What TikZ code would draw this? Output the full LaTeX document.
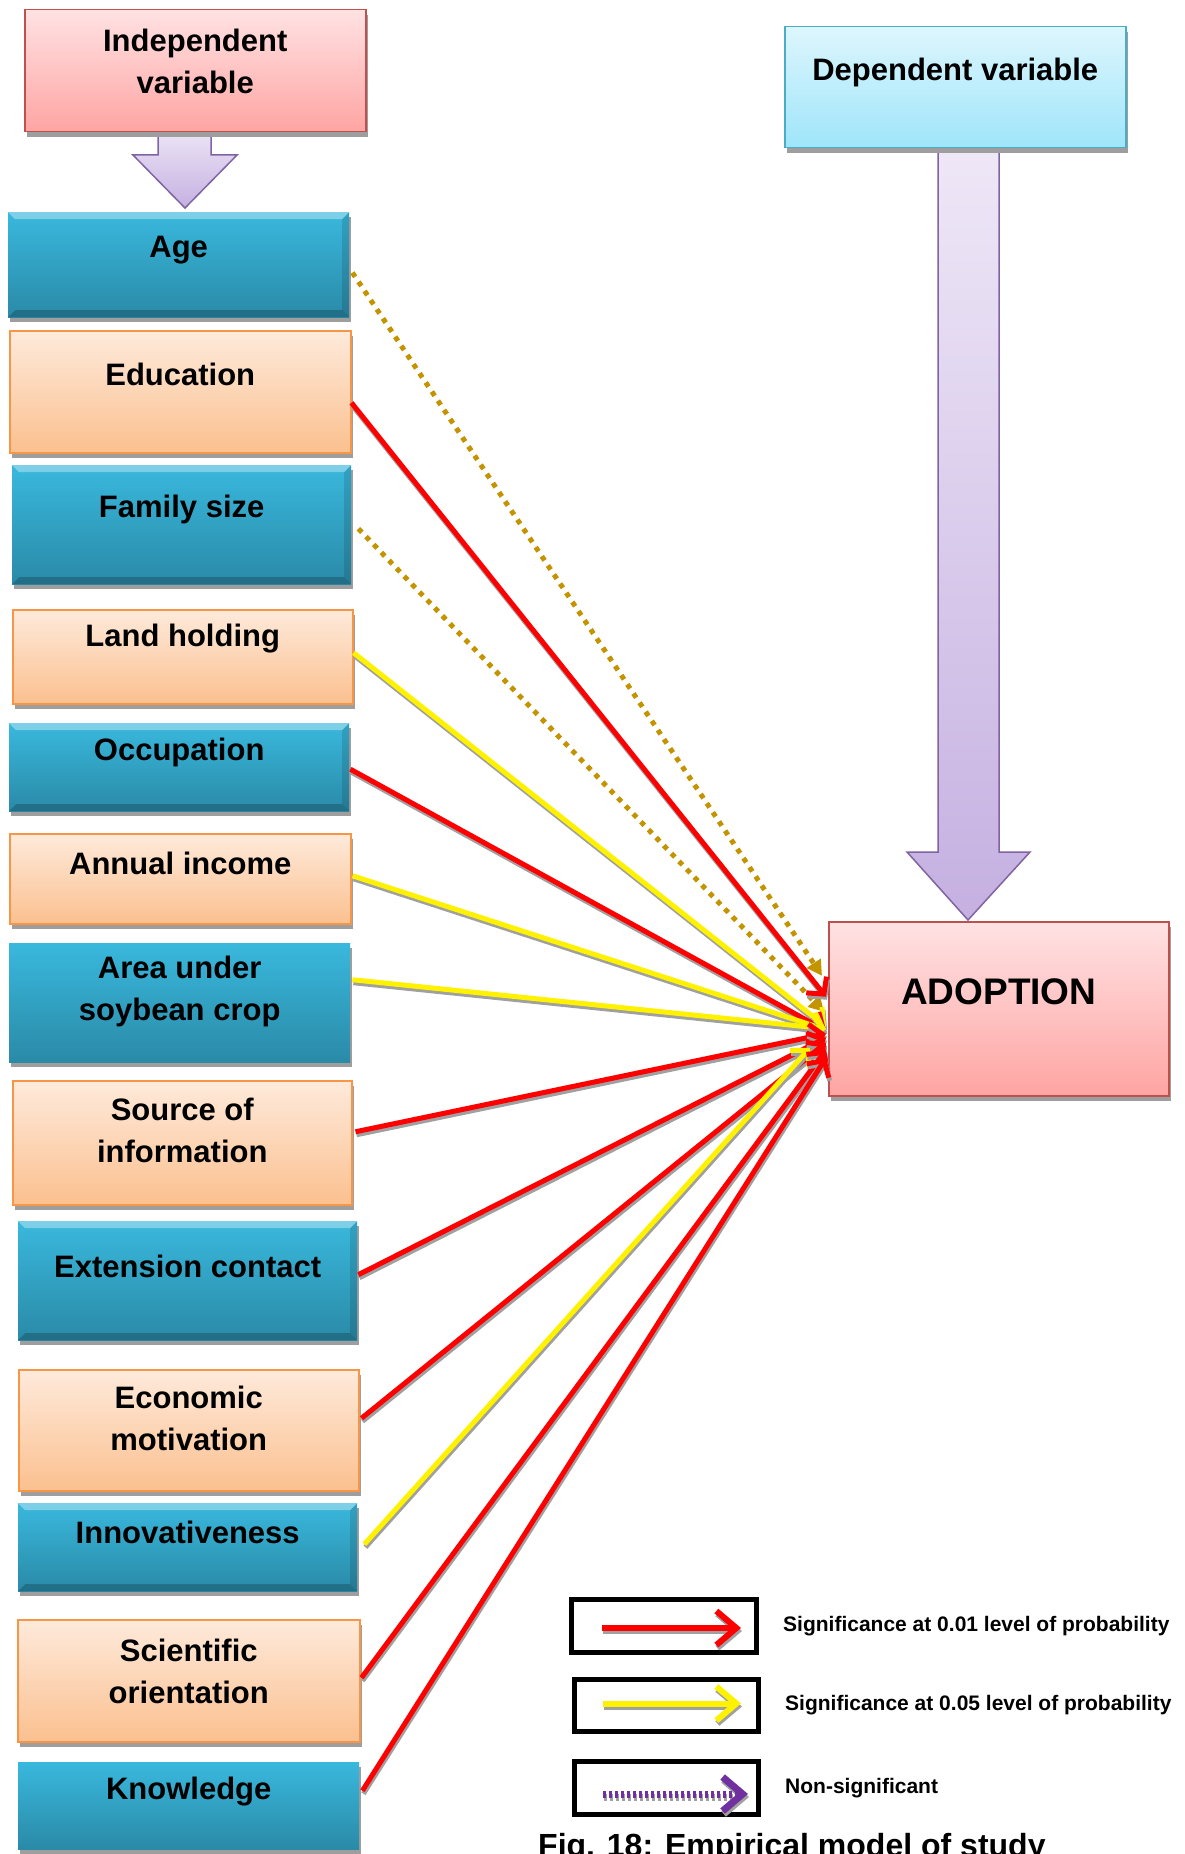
\documentclass[tikz,border=0pt]{standalone}
\usepackage{fontspec}
\setmainfont{Liberation Sans}
\usetikzlibrary{arrows.meta,shadows,positioning}

\definecolor{blutop}{HTML}{39B8DD}
\definecolor{blubot}{HTML}{2A8AA7}
\definecolor{peachtop}{HTML}{FEEADB}
\definecolor{peachbot}{HTML}{FBC08F}
\definecolor{peachline}{HTML}{F79646}
\definecolor{pinktop}{HTML}{FFE2E3}
\definecolor{pinkbot}{HTML}{FEA5A3}
\definecolor{pinkline}{HTML}{C0504D}
\definecolor{skytop}{HTML}{DDF6FD}
\definecolor{skybot}{HTML}{9FE5FA}
\definecolor{skyline}{HTML}{4BACC6}
\definecolor{liltop}{HTML}{EFE8F7}
\definecolor{lilbot}{HTML}{C5B0E1}
\definecolor{lilline}{HTML}{8064A2}
\definecolor{nsgold}{HTML}{C49300}
\definecolor{keypurple}{HTML}{7030A0}
\definecolor{lineshadow}{HTML}{A0A0A0}

% connector with its grey shadow
\newcommand{\linkto}[3]{%
  \draw[#1, draw=lineshadow, transform canvas={xshift=1pt,yshift=-3pt}] #2 -- #3;
  \draw[#1] #2 -- #3;}

\tikzset{
  boxshadow/.style={drop shadow={shadow xshift=2pt,shadow yshift=-5pt,fill=black!38,opacity=1}},
  bevel/.style={path picture={
      \fill[white,opacity=.35] (path picture bounding box.north west) -- (path picture bounding box.north east)
        -- ([shift={(-7pt,-7pt)}]path picture bounding box.north east) -- ([shift={(7pt,-7pt)}]path picture bounding box.north west) -- cycle;
      \fill[black,opacity=.2] (path picture bounding box.south west) -- (path picture bounding box.south east)
        -- ([shift={(-7pt,7pt)}]path picture bounding box.south east) -- ([shift={(7pt,7pt)}]path picture bounding box.south west) -- cycle;
      \fill[black,opacity=.12] (path picture bounding box.north east) -- (path picture bounding box.south east)
        -- ([shift={(-7pt,7pt)}]path picture bounding box.south east) -- ([shift={(-7pt,-7pt)}]path picture bounding box.north east) -- cycle;}},
  bluebox/.style={anchor=north west, inner sep=0pt, top color=blutop, bottom color=blubot, boxshadow},
  peachbox/.style={anchor=north west, inner sep=0pt, draw=peachline, line width=1.5pt, top color=peachtop, bottom color=peachbot, boxshadow},
  pinkbox/.style={anchor=north west, inner sep=0pt, draw=pinkline, line width=1.5pt, top color=pinktop, bottom color=pinkbot, boxshadow},
  skybox/.style={anchor=north west, inner sep=0pt, draw=skyline, line width=1.5pt, top color=skytop, bottom color=skybot, boxshadow},
  keybox/.style={draw=black, line width=5pt, inner sep=0pt},
  lbl/.style={inner sep=0pt, align=center, font=\fontsize{31}{42}\selectfont\bfseries},
  keytxt/.style={inner sep=0pt, anchor=west, font=\fontsize{21}{25}\selectfont\bfseries},
  blockarrow/.style={draw=lilline, line width=1.5pt, top color=liltop, bottom color=lilbot, line join=miter},
  sigone/.style={draw=red, line width=5pt, -{Straight Barb[length=12pt,width=26pt]}},
  sigfive/.style={draw=yellow, line width=5pt, -{Straight Barb[length=12pt,width=26pt]}},
  nonsig/.style={draw=nsgold, line width=5pt, dash pattern=on 5pt off 6pt, -{Triangle[length=15pt,width=16pt]}}
}

\begin{document}
\begin{tikzpicture}[x=1pt,y=-1pt]
  \path[use as bounding box, fill=white] (0,0) rectangle (1184,1854);

  % block arrows
  \draw[blockarrow] (158,125) -- (158,155) -- (133,155) -- (185,208) -- (237,155) -- (211,155) -- (211,125) -- cycle;
  \draw[blockarrow] (938,140) -- (938,852) -- (907,852) -- (968,920) -- (1030,852) -- (999,852) -- (999,140) -- cycle;

  % heading boxes
  \node[pinkbox, minimum width=341pt, minimum height=122pt] (indep) at (24,9) {};
  \node[lbl] (indeptxt) at ([yshift=-52pt]indep.north) {Independent\\variable};
  \node[skybox, minimum width=341pt, minimum height=121pt] (dep) at (784,26) {};
  \node[lbl] (deptxt) at ([yshift=-46pt]dep.north) {Dependent variable};
  \node[pinkbox, minimum width=340pt, minimum height=174pt] (adopt) at (828,921) {};
  \node[lbl, font=\fontsize{37}{44}\selectfont\bfseries] (adopttxt) at ([yshift=-71pt]adopt.north) {ADOPTION};

  % independent variables
  \node[bluebox, bevel, minimum width=341pt, minimum height=105pt] (age) at (8,212) {};
  \node[lbl] (agetxt) at ([yshift=-38pt]age.north) {Age};
  \node[peachbox, minimum width=341pt, minimum height=122pt] (edu) at (9,330) {};
  \node[lbl] (edutxt) at ([yshift=-44pt]edu.north) {Education};
  \node[bluebox, bevel, minimum width=339pt, minimum height=119pt] (fam) at (12,465) {};
  \node[lbl] (famtxt) at ([yshift=-44pt]fam.north) {Family size};
  \node[peachbox, minimum width=340pt, minimum height=94pt] (land) at (12,609) {};
  \node[lbl] (landtxt) at ([yshift=-30pt]land.north) {Land holding};
  \node[bluebox, bevel, minimum width=340pt, minimum height=88pt] (occ) at (9,723) {};
  \node[lbl] (occtxt) at ([yshift=-29pt]occ.north) {Occupation};
  \node[peachbox, minimum width=341pt, minimum height=90pt] (inc) at (9,833) {};
  \node[lbl] (inctxt) at ([yshift=-30pt]inc.north) {Annual income};
  \node[bluebox, minimum width=341pt, minimum height=119pt] (area) at (9,943) {};
  \node[lbl] (areatxt) at ([yshift=-48pt]area.north) {Area under\\soybean crop};
  \node[peachbox, minimum width=339pt, minimum height=124pt] (src) at (12,1080) {};
  \node[lbl] (srctxt) at ([yshift=-50pt]src.north) {Source of\\information};
  \node[bluebox, bevel, minimum width=339pt, minimum height=119pt] (ext) at (18,1221) {};
  \node[lbl] (exttxt) at ([yshift=-45pt]ext.north) {Extension contact};
  \node[peachbox, minimum width=340pt, minimum height=121pt] (eco) at (18,1369) {};
  \node[lbl] (ecotxt) at ([yshift=-49pt]eco.north) {Economic\\motivation};
  \node[bluebox, bevel, minimum width=339pt, minimum height=88pt] (inn) at (18,1503) {};
  \node[lbl] (inntxt) at ([yshift=-29pt]inn.north) {Innovativeness};
  \node[peachbox, minimum width=342pt, minimum height=122pt] (sci) at (17,1619) {};
  \node[lbl] (scitxt) at ([yshift=-52pt]sci.north) {Scientific\\orientation};
  \node[bluebox, minimum width=341pt, minimum height=87pt] (know) at (18,1762) {};
  \node[lbl] (knowtxt) at ([yshift=-30pt]know.north) {Knowledge};

  % connectors to adoption
  \draw[nonsig] ([shift={(3pt,-8pt)}]age.east) -- ([shift={(-6pt,33pt)}]adopt.west);
  \draw[nonsig] ([shift={(7pt,-4pt)}]fam.east) -- ([shift={(-4pt,-3pt)}]adopt.west);
  \linkto{sigone}{([shift={(0pt,-11pt)}]edu.east)}{([shift={(-2pt,12pt)}]adopt.west)}
  \linkto{sigfive}{([shift={(0pt,4pt)}]land.east)}{([shift={(-2pt,-18pt)}]adopt.west)}
  \linkto{sigone}{([shift={(1pt,-2pt)}]occ.east)}{([shift={(-2pt,-22pt)}]adopt.west)}
  \linkto{sigfive}{([shift={(1pt,3pt)}]inc.east)}{([shift={(-2pt,-21pt)}]adopt.west)}
  \linkto{sigfive}{([shift={(2pt,23pt)}]area.east)}{([shift={(-2pt,-20pt)}]adopt.west)}
  \linkto{sigone}{([shift={(3pt,11pt)}]src.east)}{([shift={(-2pt,-25pt)}]adopt.west)}
  \linkto{sigone}{([shift={(1pt,6pt)}]ext.east)}{([shift={(-2pt,-29pt)}]adopt.west)}
  \linkto{sigone}{([shift={(2pt,12pt)}]eco.east)}{([shift={(-2pt,-34pt)}]adopt.west)}
  \linkto{sigfive}{([shift={(7pt,3pt)}]inn.east)}{([shift={(-18pt,-39pt)}]adopt.west)}
  \linkto{sigone}{([shift={(1pt,3pt)}]sci.east)}{([shift={(-2pt,-41pt)}]adopt.west)}
  \linkto{sigone}{([shift={(3pt,15pt)}]know.east)}{([shift={(-2pt,-49pt)}]adopt.west)}

  % key
  \node[keybox, minimum width=185pt, minimum height=53pt] (keyone) at (664,1626) {};
  \node[keybox, minimum width=184pt, minimum height=52pt] (keytwo) at (666.5,1705.5) {};
  \node[keybox, minimum width=184pt, minimum height=53pt] (keythree) at (666.5,1788) {};
  \linkto{sigone, line width=6pt, -{Straight Barb[length=20pt,width=34pt]}}{([shift={(33pt,-2pt)}]keyone.west)}{([shift={(-18pt,-2pt)}]keyone.east)}
  \linkto{sigfive, line width=6pt, -{Straight Barb[length=20pt,width=34pt]}}{([shift={(31pt,2pt)}]keytwo.west)}{([shift={(-20pt,2pt)}]keytwo.east)}
  \linkto{draw=keypurple, line width=7pt, dash pattern=on 3pt off 3pt, -{Straight Barb[length=20pt,width=34pt]}}{([shift={(31pt,-6pt)}]keythree.west)}{([shift={(-13pt,-6pt)}]keythree.east)}
  \node[keytxt, right=24pt of keyone] (keyonetxt) {Significance at 0.01 level of probability};
  \node[keytxt, right=24pt of keytwo] (keytwotxt) {Significance at 0.05 level of probability};
  \node[keytxt, right=24pt of keythree] (keythreetxt) {Non-significant};

  \node[inner sep=0pt, anchor=base west, font=\fontsize{32}{38}\selectfont\bfseries] (caption) at (538,1856) {Fig. 18: Empirical model of study};
\end{tikzpicture}
\end{document}
